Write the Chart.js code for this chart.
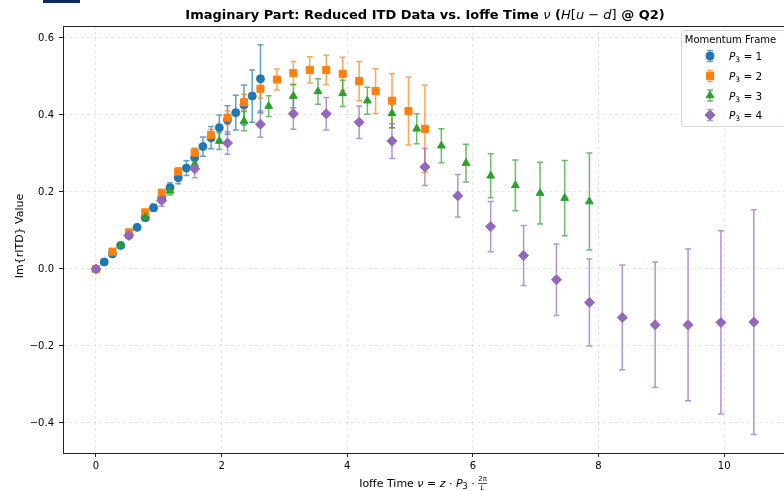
<!DOCTYPE html>
<html><head><meta charset="utf-8">
<script src="https://cdn.jsdelivr.net/npm/chart.js@4.4.1/dist/chart.umd.min.js"></script>
<style>
html,body{margin:0;padding:0;background:#fff;overflow:hidden;width:784px;height:491px}
#wrap{position:absolute;left:0;top:0;width:800px;height:491px}
</style></head>
<body><div id="wrap"><canvas id="c" width="800" height="491"></canvas></div>
<script>
// Ioffe time values nu for each momentum frame
const nuP1 = [0, 0.131, 0.262, 0.393, 0.524, 0.654, 0.785, 0.916, 1.047, 1.178, 1.309, 1.440, 1.571, 1.702, 1.833, 1.963, 2.094, 2.225, 2.356, 2.487, 2.618];
const nuP2 = [0, 0.262, 0.524, 0.785, 1.047, 1.309, 1.571, 1.833, 2.094, 2.356, 2.618, 2.880, 3.142, 3.403, 3.665, 3.927, 4.189, 4.451, 4.712, 4.974, 5.236];
const nuP3 = [0, 0.393, 0.785, 1.178, 1.571, 1.963, 2.356, 2.749, 3.142, 3.534, 3.927, 4.320, 4.712, 5.105, 5.498, 5.890, 6.283, 6.676, 7.069, 7.461, 7.854];
const nuP4 = [0, 0.524, 1.047, 1.571, 2.094, 2.618, 3.142, 3.665, 4.189, 4.712, 5.236, 5.760, 6.283, 6.807, 7.330, 7.854, 8.378, 8.901, 9.425, 9.948, 10.472];

// Im{rITD} values
const imP1 = [0, 0.018, 0.039, 0.061, 0.087, 0.108, 0.133, 0.159, 0.185, 0.211, 0.237, 0.262, 0.289, 0.318, 0.341, 0.367, 0.387, 0.406, 0.426, 0.449, 0.494];
const imP2 = [0, 0.045, 0.095, 0.147, 0.198, 0.253, 0.302, 0.348, 0.393, 0.433, 0.468, 0.492, 0.509, 0.517, 0.517, 0.507, 0.488, 0.462, 0.437, 0.410, 0.364];
const imP3 = [0, 0.061, 0.134, 0.203, 0.272, 0.332, 0.384, 0.423, 0.449, 0.461, 0.456, 0.437, 0.404, 0.364, 0.320, 0.275, 0.242, 0.217, 0.197, 0.184, 0.175];
const imP4 = [0, 0.087, 0.178, 0.260, 0.327, 0.376, 0.403, 0.403, 0.381, 0.332, 0.265, 0.190, 0.110, 0.035, -0.028, -0.087, -0.126, -0.145, -0.145, -0.139, -0.138];

// symmetric errors
const errP1 = [0, 0.002, 0.003, 0.004, 0.005, 0.006, 0.007, 0.009, 0.011, 0.013, 0.016, 0.019, 0.022, 0.025, 0.029, 0.033, 0.037, 0.045, 0.052, 0.068, 0.088];
const errP2 = [0, 0.003, 0.004, 0.006, 0.008, 0.010, 0.012, 0.015, 0.018, 0.021, 0.024, 0.027, 0.030, 0.034, 0.038, 0.043, 0.051, 0.058, 0.070, 0.088, 0.113];
const errP3 = [0, 0.004, 0.007, 0.011, 0.016, 0.022, 0.025, 0.027, 0.030, 0.033, 0.034, 0.035, 0.037, 0.039, 0.044, 0.049, 0.057, 0.066, 0.080, 0.098, 0.126];
const errP4 = [0, 0.007, 0.015, 0.023, 0.029, 0.034, 0.040, 0.042, 0.042, 0.045, 0.048, 0.055, 0.065, 0.078, 0.093, 0.113, 0.136, 0.163, 0.197, 0.238, 0.292];

const seriesLabels = ['1', '2', '3', '4'];
const xTickValues = [0, 2, 4, 6, 8, 10];
const xTickLabels = ['0', '2', '4', '6', '8', '10'];
const yTickValues = [-0.4, -0.2, 0, 0.2, 0.4, 0.6];
const yTickLabels = ['\u22120.4', '\u22120.2', '0.0', '0.2', '0.4', '0.6'];

const FONT = "'DejaVu Sans'";
const colors = ['#1f77b4', '#ff7f0e', '#2ca02c', '#9467bd'];
const errColors = ['rgba(31,119,180,0.7)', 'rgba(255,127,14,0.7)', 'rgba(44,160,44,0.7)', 'rgba(148,103,189,0.7)'];
const styles = ['circle', 'rect', 'triangle', 'rectRot'];
const radii = [4, 5, 4.5, 5];

const nus = [nuP1, nuP2, nuP3, nuP4];
const ims = [imP1, imP2, imP3, imP4];
const errs = [errP1, errP2, errP3, errP4];

const datasets = nus.map((nu, k) => ({
  label: 'P3 = ' + seriesLabels[k],
  data: nu.map((x, i) => ({x: x, y: ims[k][i]})),
  errors: errs[k],
  showLine: false,
  pointStyle: styles[k],
  pointRadius: radii[k],
  pointHoverRadius: radii[k],
  pointBackgroundColor: colors[k],
  pointBorderColor: colors[k],
  pointBorderWidth: 1,
  borderColor: colors[k],
  backgroundColor: colors[k],
  order: 4 - k
}));

function drawCapBar(ctx, x, yT, yB, cap) {
  ctx.beginPath();
  ctx.moveTo(x, yT); ctx.lineTo(x, yB);
  ctx.moveTo(x - cap, yT); ctx.lineTo(x + cap, yT);
  ctx.moveTo(x - cap, yB); ctx.lineTo(x + cap, yB);
  ctx.stroke();
}

function drawRuns(ctx, runs, cx, y) {
  let total = 0;
  runs.forEach(r => { ctx.font = r.f; r.w = ctx.measureText(r.t).width; total += r.w; });
  let x = cx - total / 2;
  ctx.textAlign = 'left';
  runs.forEach(r => { ctx.font = r.f; ctx.fillText(r.t, x, y + (r.dy || 0)); x += r.w; });
  return x;
}

function drawPointShape(ctx, style, x, y, r, color) {
  ctx.save();
  ctx.fillStyle = color; ctx.strokeStyle = color; ctx.lineWidth = 1;
  Chart.helpers.drawPoint(ctx, {pointStyle: style, rotation: 0, radius: r, borderWidth: 1}, x, y);
  ctx.restore();
}

const decor = {
  id: 'decor',
  beforeDatasetsDraw(chart) {
    const ctx = chart.ctx, ys = chart.scales.y, a = chart.chartArea;
    ctx.save();
    ctx.beginPath(); ctx.rect(a.left, a.top, a.right - a.left, a.bottom - a.top); ctx.clip();
    ctx.lineWidth = 1.5;
    chart.data.datasets.forEach((ds, k) => {
      const meta = chart.getDatasetMeta(k);
      ctx.strokeStyle = errColors[k];
      meta.data.forEach((pt, i) => {
        const e = ds.errors[i];
        if (!e) return;
        const v = ds.data[i].y;
        drawCapBar(ctx, pt.x, ys.getPixelForValue(v + e), ys.getPixelForValue(v - e), 3);
      });
    });
    ctx.restore();
  },
  afterDraw(chart) {
    const ctx = chart.ctx, a = chart.chartArea;
    ctx.save();
    // frame
    ctx.strokeStyle = '#222'; ctx.lineWidth = 1;
    ctx.strokeRect(Math.round(a.left) + 0.5, Math.round(a.top) + 0.5, Math.round(a.right - a.left), Math.round(a.bottom - a.top));
    // logo remnant
    ctx.fillStyle = '#0d2b5c';
    ctx.fillRect(43, 0, 37, 3);
    const cx = (a.left + a.right) / 2;
    ctx.fillStyle = '#000';
    ctx.textBaseline = 'alphabetic';
    // title
    const B = 'bold 13px ' + FONT, I = 'oblique 13px ' + FONT, N = '13px ' + FONT;
    drawRuns(ctx, [
      {t: 'Imaginary Part: Reduced ITD Data vs. Ioffe Time ', f: B},
      {t: '\u03bd', f: I},
      {t: ' (', f: B},
      {t: 'H', f: I}, {t: '[', f: N}, {t: 'u', f: I}, {t: ' \u2212 ', f: N}, {t: 'd', f: I}, {t: ']', f: N},
      {t: ' @ Q2)', f: B}
    ], cx, 19);
    // x label
    const n = '11px ' + FONT, it = 'oblique 11px ' + FONT, sm = '8px ' + FONT, smi = 'oblique 7px ' + FONT, sm7 = '7px ' + FONT;
    const xl = 487;
    const runs = [
      {t: 'Ioffe Time ', f: n}, {t: '\u03bd', f: it}, {t: ' = ', f: n}, {t: 'z', f: it}, {t: ' \u00b7 ', f: n},
      {t: 'P', f: it}, {t: '3', f: sm, dy: 2}, {t: ' \u00b7 ', f: n}, {t: '2\u03c0', f: sm7, dy: -6}
    ];
    const endX = drawRuns(ctx, runs, cx - 2, xl);
    ctx.font = sm7;
    const fw = ctx.measureText('2\u03c0').width;
    const fx = endX - fw;
    ctx.fillRect(fx, xl - 4, fw, 0.7);
    ctx.font = smi;
    ctx.textAlign = 'center';
    ctx.fillText('L', fx + fw / 2, xl + 3);
    // y label
    ctx.save();
    ctx.translate(20.5, 236);
    ctx.rotate(-Math.PI / 2);
    ctx.font = '11px ' + FONT; ctx.textAlign = 'center'; ctx.textBaseline = 'middle';
    ctx.fillText('Im{rITD} Value', 0, 0);
    ctx.restore();
    // legend
    const lx = 681, ly = 30, lw = 110, lh = 96;
    ctx.beginPath();
    if (ctx.roundRect) ctx.roundRect(lx + 0.5, ly + 0.5, lw, lh, 3); else ctx.rect(lx + 0.5, ly + 0.5, lw, lh);
    ctx.fillStyle = 'rgba(255,255,255,0.8)'; ctx.fill();
    ctx.strokeStyle = '#d6d6d6'; ctx.lineWidth = 1; ctx.stroke();
    ctx.fillStyle = '#000'; ctx.font = '10px ' + FONT; ctx.textAlign = 'center'; ctx.textBaseline = 'middle';
    ctx.fillText('Momentum Frame', 730.5, 40);
    const rowY = [56, 76, 95.5, 115];
    for (let k = 0; k < 4; k++) {
      const y = rowY[k];
      ctx.strokeStyle = errColors[k]; ctx.lineWidth = 1.5;
      drawCapBar(ctx, 710, y - 5.5, y + 5.5, 3);
      drawPointShape(ctx, styles[k], 710, y, radii[k], colors[k]);
      ctx.fillStyle = '#000'; ctx.textBaseline = 'alphabetic';
      const base = y + 4;
      ctx.textAlign = 'left';
      let x = 729;
      ctx.font = 'oblique 10.5px ' + FONT; ctx.fillText('P', x, base); x += ctx.measureText('P').width;
      ctx.font = '7.5px ' + FONT; ctx.fillText('3', x, base + 2); x += ctx.measureText('3').width;
      ctx.font = '10.5px ' + FONT; ctx.fillText(' = ' + seriesLabels[k], x, base);
      ctx.textBaseline = 'middle';
    }
    ctx.restore();
  }
};

new Chart(document.getElementById('c'), {
  type: 'scatter',
  data: {datasets: datasets},
  options: {
    responsive: false,
    animation: false,
    events: [],
    layout: {padding: {top: 26, right: 13, bottom: 0, left: 0}},
    plugins: {legend: {display: false}, tooltip: {enabled: false}, title: {display: false}},
    scales: {
      x: {
        type: 'linear', min: -0.525, max: 11.0,
        afterBuildTicks: s => { s.ticks = xTickValues.map(v => ({value: v})); },
        afterFit: s => { s.height = 38; },
        ticks: {callback: (v, i) => xTickLabels[i], font: {family: FONT, size: 10}, color: '#000', padding: 3, maxRotation: 0, autoSkip: false},
        grid: {color: 'rgba(0,0,0,0.12)', lineWidth: 0.8, tickColor: '#222', tickLength: 4, tickWidth: 1},
        border: {display: false, dash: [3, 3]}
      },
      y: {
        type: 'linear', min: -0.478, max: 0.631,
        afterBuildTicks: s => { s.ticks = yTickValues.map(v => ({value: v})); },
        afterFit: s => { s.width = 63; },
        ticks: {callback: (v, i) => yTickLabels[i], font: {family: FONT, size: 10}, color: '#000', padding: 5, autoSkip: false},
        grid: {color: 'rgba(0,0,0,0.12)', lineWidth: 0.8, tickColor: '#222', tickLength: 4, tickWidth: 1},
        border: {display: false, dash: [3, 3]}
      }
    }
  },
  plugins: [decor]
});
</script>
</body></html>
